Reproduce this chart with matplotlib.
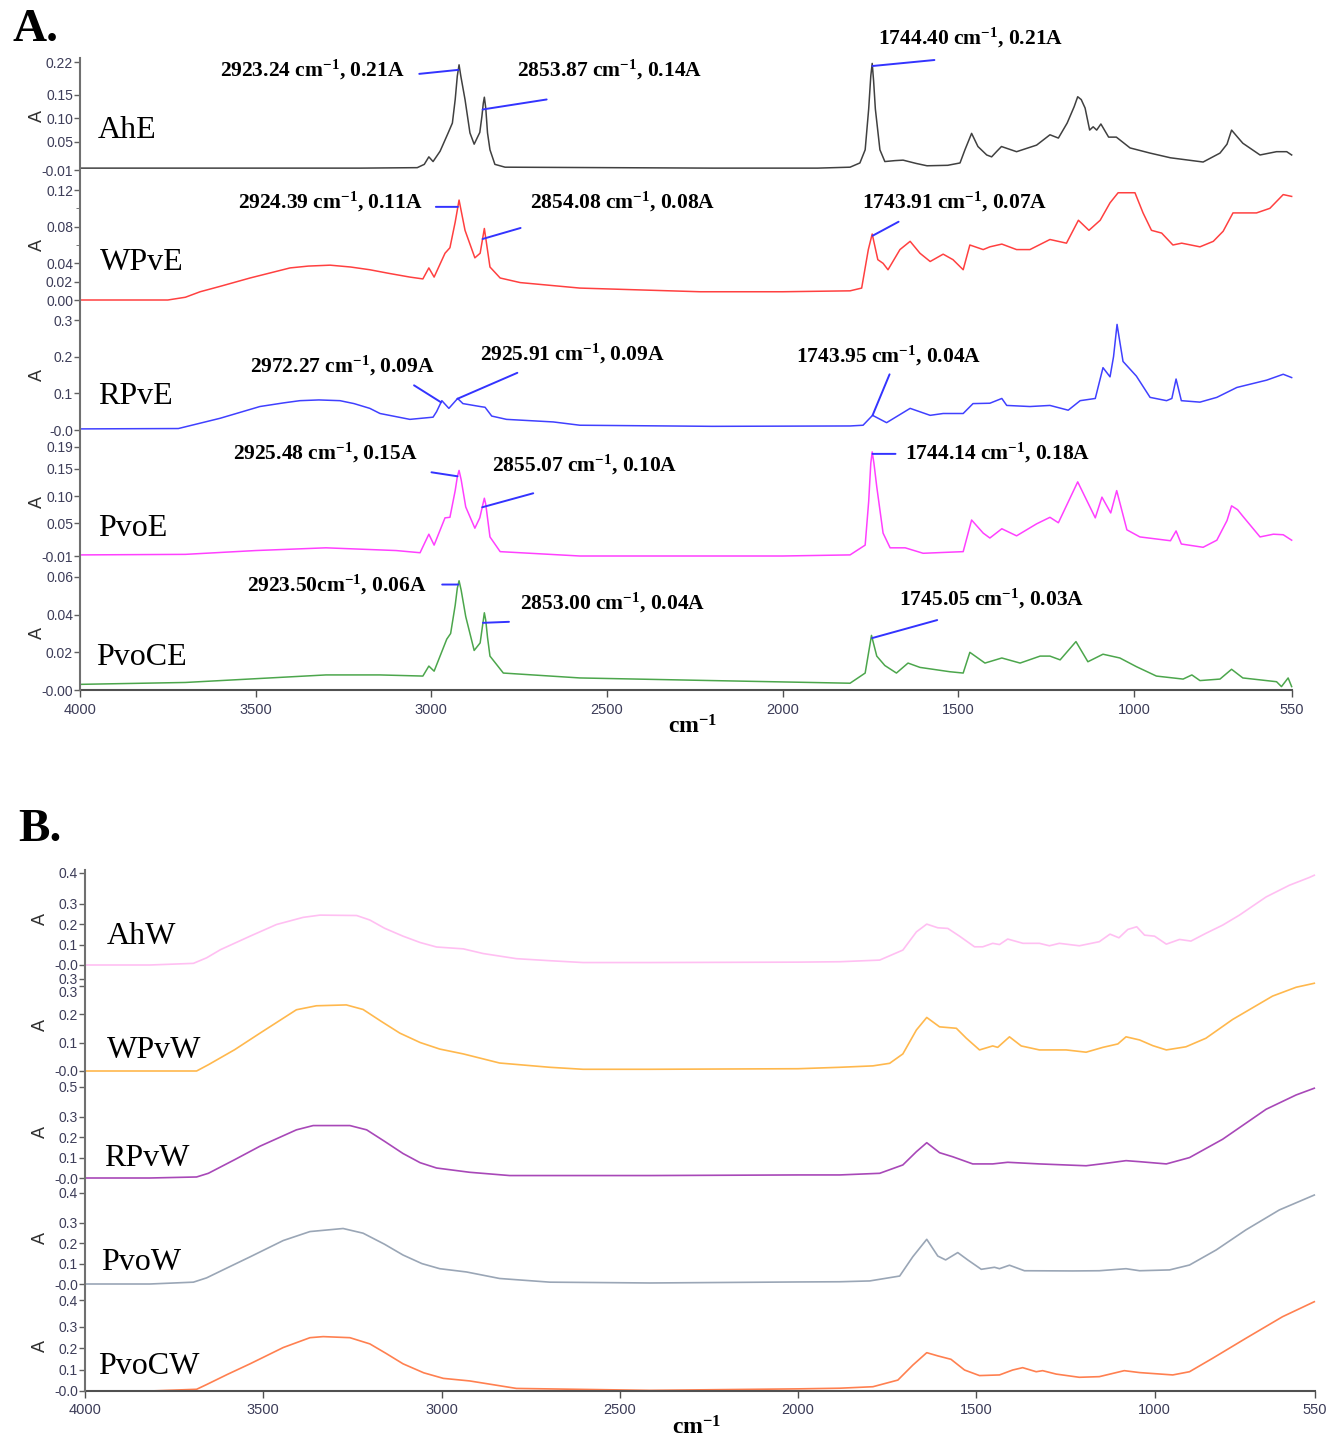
import numpy as np
import matplotlib
matplotlib.use("Agg")
import matplotlib.pyplot as plt
from matplotlib.lines import Line2D
from matplotlib import font_manager


# ---- данные панели A (этанольные экстракты) ----
ahe_wn = [4000, 3600, 3200, 3040, 3020, 3007, 2995, 2975, 2952, 2940, 2932, 2926, 2921, 2916, 2904, 2890,
          2878, 2862, 2856, 2852, 2849, 2845, 2840, 2833, 2819, 2790, 2500, 2200, 1900, 1808, 1780, 1765,
          1755, 1749, 1745, 1741, 1736, 1723, 1709, 1680, 1657, 1620, 1589, 1530, 1495, 1481, 1462, 1444,
          1419, 1405, 1390, 1377, 1334, 1277, 1239, 1215, 1190, 1170, 1160, 1150, 1139, 1126, 1116, 1106,
          1094, 1072, 1050, 1011, 954, 896, 803, 755, 735, 722, 705, 690, 641, 594, 565, 551]
ahe_ab = [-0.006, -0.006, -0.006, -0.005, 0.002, 0.018, 0.008, 0.030, 0.069, 0.090, 0.140, 0.190, 0.214,
          0.190, 0.140, 0.069, 0.045, 0.070, 0.104, 0.132, 0.145, 0.122, 0.069, 0.033, 0.002, -0.004, -0.005,
          -0.006, -0.006, -0.004, 0.005, 0.033, 0.120, 0.190, 0.217, 0.180, 0.120, 0.033, 0.008, 0.010, 0.011,
          0.004, -0.001, 0.000, 0.005, 0.033, 0.068, 0.040, 0.022, 0.018, 0.030, 0.040, 0.029, 0.043, 0.065,
          0.058, 0.090, 0.125, 0.146, 0.140, 0.122, 0.075, 0.082, 0.075, 0.088, 0.060, 0.060, 0.037, 0.026,
          0.016, 0.007, 0.026, 0.045, 0.075, 0.060, 0.047, 0.022, 0.029, 0.029, 0.022]

wpve_wn = [4000, 3750, 3700, 3658, 3600, 3516, 3402, 3350, 3288, 3230, 3175, 3120, 3061, 3024, 3007, 2992,
           2961, 2947, 2932, 2921, 2904, 2876, 2861, 2849, 2833, 2804, 2747, 2577, 2235, 2000, 1808, 1775,
           1756, 1745, 1729, 1714, 1700, 1666, 1637, 1609, 1580, 1543, 1515, 1486, 1467, 1429, 1410, 1376,
           1334, 1296, 1239, 1192, 1158, 1128, 1096, 1068, 1045, 997, 974, 950, 921, 889, 864, 812, 774, 746,
           718, 651, 613, 575, 551]
wpve_ab = [0.000, 0.000, 0.003, 0.009, 0.015, 0.024, 0.035, 0.037, 0.038, 0.036, 0.033, 0.029, 0.025, 0.023,
           0.035, 0.025, 0.051, 0.057, 0.085, 0.109, 0.076, 0.046, 0.051, 0.078, 0.036, 0.024, 0.019, 0.013,
           0.009, 0.009, 0.010, 0.013, 0.055, 0.072, 0.044, 0.040, 0.033, 0.055, 0.064, 0.051, 0.042, 0.050,
           0.044, 0.033, 0.060, 0.055, 0.058, 0.061, 0.055, 0.055, 0.066, 0.062, 0.087, 0.076, 0.087, 0.106,
           0.117, 0.117, 0.095, 0.076, 0.073, 0.060, 0.062, 0.058, 0.064, 0.075, 0.095, 0.095, 0.100, 0.115,
           0.113]

rpve_wn = [4000, 3720, 3601, 3488, 3420, 3374, 3320, 3260, 3220, 3175, 3146, 3061, 2995, 2985, 2970, 2950,
           2925, 2910, 2861, 2847, 2828, 2786, 2653, 2577, 2200, 1808, 1771, 1744, 1704, 1637, 1580, 1543,
           1486, 1458, 1410, 1376, 1362, 1296, 1239, 1187, 1153, 1110, 1088, 1068, 1058, 1048, 1040, 1031, 993,
           954, 907, 892, 880, 865, 812, 764, 707, 622, 575, 551]
rpve_ab = [0.003, 0.004, 0.032, 0.064, 0.074, 0.080, 0.082, 0.080, 0.072, 0.059, 0.045, 0.029, 0.035, 0.050,
           0.080, 0.059, 0.086, 0.072, 0.064, 0.062, 0.038, 0.029, 0.022, 0.013, 0.010, 0.011, 0.013, 0.040,
           0.020, 0.059, 0.040, 0.045, 0.045, 0.072, 0.073, 0.086, 0.067, 0.064, 0.067, 0.054, 0.080, 0.086,
           0.170, 0.145, 0.200, 0.288, 0.240, 0.187, 0.147, 0.089, 0.080, 0.086, 0.139, 0.080, 0.076, 0.089,
           0.116, 0.136, 0.152, 0.143]

pvoe_wn = [4000, 3700, 3500, 3300, 3100, 3032, 3007, 2992, 2961, 2947, 2932, 2926, 2921, 2915, 2902, 2876,
           2862, 2852, 2849, 2845, 2840, 2833, 2804, 2577, 2000, 1808, 1765, 1755, 1749, 1745, 1740, 1732,
           1714, 1694, 1651, 1600, 1486, 1462, 1429, 1410, 1376, 1334, 1277, 1239, 1215, 1160, 1135, 1110,
           1091, 1066, 1049, 1020, 983, 896, 880, 865, 803, 764, 735, 722, 705, 690, 641, 603, 575, 551]
pvoe_ab = [-0.008, -0.007, 0.000, 0.005, 0.000, -0.004, 0.030, 0.010, 0.060, 0.061, 0.110, 0.135, 0.147,
           0.130, 0.080, 0.041, 0.060, 0.088, 0.096, 0.085, 0.060, 0.025, -0.002, -0.010, -0.010, -0.008,
           0.010, 0.090, 0.160, 0.181, 0.160, 0.117, 0.032, 0.005, 0.005, -0.005, -0.002, 0.056, 0.032, 0.023,
           0.040, 0.027, 0.049, 0.061, 0.051, 0.126, 0.093, 0.060, 0.098, 0.069, 0.110, 0.038, 0.025, 0.018,
           0.036, 0.012, 0.006, 0.019, 0.055, 0.082, 0.075, 0.063, 0.025, 0.030, 0.029, 0.019]

pvoce_wn = [4000, 3700, 3500, 3300, 3146, 3024, 3007, 2992, 2956, 2945, 2932, 2926, 2921, 2915, 2902, 2878,
            2861, 2852, 2849, 2845, 2840, 2833, 2795, 2577, 2200, 1808, 1765, 1747, 1732, 1709, 1676, 1643,
            1609, 1524, 1486, 1467, 1424, 1376, 1324, 1267, 1239, 1210, 1165, 1131, 1088, 1040, 993, 936, 860,
            835, 812, 755, 722, 690, 594, 580, 561, 551]
pvoce_ab = [0.0030, 0.0040, 0.0060, 0.0080, 0.0080, 0.0074, 0.0127, 0.0100, 0.0270, 0.0300, 0.0450, 0.0540,
            0.0580, 0.0530, 0.0390, 0.0210, 0.0250, 0.0370, 0.0410, 0.0370, 0.0280, 0.0180, 0.0090, 0.0064,
            0.0050, 0.0036, 0.0090, 0.0290, 0.0180, 0.0130, 0.0090, 0.0143, 0.0120, 0.0097, 0.0090, 0.0200,
            0.0143, 0.0170, 0.0143, 0.0180, 0.0180, 0.0160, 0.0257, 0.0150, 0.0190, 0.0170, 0.0124, 0.0074,
            0.0058, 0.0080, 0.0050, 0.0058, 0.0110, 0.0064, 0.0044, 0.0018, 0.0064, 0.0018]

# ---- данные панели B (водные экстракты) ----
ahw_wn = [4000, 3818, 3696, 3659, 3620, 3537, 3463, 3388, 3341, 3238, 3201, 3160, 3108, 3060, 3014, 2939,
          2883, 2790, 2696, 2603, 2416, 2000, 1883, 1771, 1706, 1668, 1639, 1608, 1580, 1547, 1505, 1482,
          1454, 1435, 1412, 1369, 1323, 1295, 1267, 1211, 1155, 1125, 1100, 1075, 1050, 1028, 1000, 967, 930,
          898, 856, 809, 762, 687, 622, 566, 552]
ahw_ab = [0.000, 0.000, 0.008, 0.035, 0.075, 0.141, 0.198, 0.233, 0.244, 0.242, 0.220, 0.180, 0.141, 0.110,
          0.088, 0.079, 0.056, 0.031, 0.021, 0.012, 0.012, 0.014, 0.016, 0.024, 0.073, 0.162, 0.200, 0.182,
          0.179, 0.141, 0.089, 0.089, 0.106, 0.100, 0.127, 0.106, 0.106, 0.094, 0.106, 0.094, 0.114, 0.151,
          0.133, 0.174, 0.187, 0.146, 0.141, 0.102, 0.125, 0.117, 0.155, 0.195, 0.244, 0.333, 0.390, 0.428,
          0.439]

wpvw_wn = [4000, 3818, 3687, 3654, 3580, 3509, 3407, 3351, 3267, 3220, 3170, 3117, 3060, 3005, 2939, 2837,
           2696, 2603, 2416, 2000, 1883, 1790, 1743, 1706, 1668, 1639, 1603, 1556, 1528, 1491, 1454, 1440,
           1407, 1374, 1323, 1248, 1192, 1145, 1103, 1080, 1042, 1005, 967, 912, 856, 781, 669, 603, 552]
wpvw_ab = [0.000, 0.000, 0.000, 0.022, 0.075, 0.133, 0.215, 0.229, 0.232, 0.216, 0.175, 0.133, 0.100, 0.077,
           0.060, 0.028, 0.013, 0.006, 0.006, 0.008, 0.013, 0.018, 0.027, 0.060, 0.144, 0.188, 0.155, 0.150,
           0.115, 0.074, 0.088, 0.083, 0.120, 0.088, 0.074, 0.074, 0.066, 0.083, 0.095, 0.120, 0.109, 0.089,
           0.074, 0.085, 0.115, 0.181, 0.263, 0.294, 0.308]

rpvw_wn = [4000, 3818, 3687, 3654, 3580, 3509, 3407, 3360, 3257, 3210, 3160, 3108, 3060, 3014, 2921, 2809,
           2416, 2000, 1883, 1771, 1706, 1668, 1639, 1603, 1566, 1510, 1454, 1412, 1323, 1192, 1136, 1080,
           1042, 967, 902, 809, 687, 603, 552]
rpvw_ab = [0.000, 0.000, 0.005, 0.023, 0.090, 0.156, 0.236, 0.257, 0.257, 0.236, 0.180, 0.120, 0.075, 0.049,
           0.028, 0.012, 0.012, 0.015, 0.015, 0.023, 0.064, 0.129, 0.173, 0.124, 0.104, 0.069, 0.069, 0.077,
           0.069, 0.060, 0.072, 0.085, 0.080, 0.069, 0.100, 0.190, 0.337, 0.407, 0.440]

pvow_wn = [4000, 3818, 3696, 3659, 3600, 3537, 3444, 3369, 3276, 3220, 3160, 3108, 3055, 3005, 2930, 2837,
           2696, 2416, 2000, 1883, 1799, 1715, 1678, 1639, 1608, 1586, 1552, 1524, 1486, 1449, 1435, 1407,
           1365, 1229, 1155, 1080, 1042, 958, 902, 827, 744, 650, 552]
pvow_ab = [0.000, 0.000, 0.009, 0.030, 0.080, 0.133, 0.213, 0.257, 0.272, 0.249, 0.195, 0.142, 0.100, 0.075,
           0.059, 0.027, 0.009, 0.005, 0.010, 0.011, 0.015, 0.039, 0.134, 0.219, 0.137, 0.118, 0.154, 0.118,
           0.072, 0.082, 0.075, 0.092, 0.065, 0.064, 0.065, 0.075, 0.065, 0.069, 0.093, 0.167, 0.265, 0.363,
           0.436]

pvocw_wn = [4000, 3818, 3687, 3659, 3600, 3537, 3444, 3369, 3332, 3257, 3201, 3155, 3108, 3050, 2995, 2921,
            2790, 2416, 2000, 1883, 1790, 1720, 1678, 1639, 1608, 1571, 1533, 1491, 1435, 1398, 1370, 1332,
            1314, 1276, 1211, 1155, 1085, 1042, 949, 902, 837, 744, 641, 552]
pvocw_ab = [0.000, 0.000, 0.008, 0.030, 0.078, 0.127, 0.203, 0.249, 0.254, 0.249, 0.220, 0.175, 0.127, 0.085,
            0.059, 0.047, 0.012, 0.003, 0.010, 0.013, 0.020, 0.051, 0.121, 0.179, 0.164, 0.148, 0.098, 0.072,
            0.075, 0.098, 0.109, 0.090, 0.095, 0.079, 0.064, 0.067, 0.095, 0.086, 0.075, 0.090, 0.153, 0.246,
            0.347, 0.417]

names_a = ["AhE", "WPvE", "RPvE", "PvoE", "PvoCE"]
names_b = ["AhW", "WPvW", "RPvW", "PvoW", "PvoCW"]
series_a = [(ahe_wn, ahe_ab), (wpve_wn, wpve_ab), (rpve_wn, rpve_ab), (pvoe_wn, pvoe_ab), (pvoce_wn, pvoce_ab)]
series_b = [(ahw_wn, ahw_ab), (wpvw_wn, wpvw_ab), (rpvw_wn, rpvw_ab), (pvow_wn, pvow_ab), (pvocw_wn, pvocw_ab)]

# деления оси Y (подписи как на исходном рисунке)
yticks_a = [[-0.01, 0.05, 0.10, 0.15, 0.22], [0.00, 0.02, 0.04, 0.08, 0.12], [0.0, 0.1, 0.2, 0.3],
            [-0.01, 0.05, 0.10, 0.15, 0.19], [0.0, 0.02, 0.04, 0.06]]
ylabels_a = [["-0.01", "0.05", "0.10", "0.15", "0.22"], ["0.00", "0.02", "0.04", "0.08", "0.12"],
             ["-0.0", "0.1", "0.2", "0.3"], ["-0.01", "0.05", "0.10", "0.15", "0.19"],
             ["-0.00", "0.02", "0.04", "0.06"]]
yticks_b = [[0.0, 0.1, 0.2, 0.3, 0.45], [0.0, 0.1, 0.2, 0.3, 0.323], [0.0, 0.1, 0.2, 0.3, 0.446],
            [0.0, 0.1, 0.2, 0.3, 0.446], [0.0, 0.1, 0.2, 0.3, 0.425]]
ylabels_b = [["-0.0", "0.1", "0.2", "0.3", "0.4"], ["-0.0", "0.1", "0.2", "0.3", "0.3"],
             ["-0.0", "0.1", "0.2", "0.3", "0.5"], ["-0.0", "0.1", "0.2", "0.3", "0.4"],
             ["-0.0", "0.1", "0.2", "0.3", "0.4"]]
xticks = [4000, 3500, 3000, 2500, 2000, 1500, 1000, 550]

# подписи пиков: (панель, волновое число, текст)
peaks = [
    (0, 2923.24, "2923.24 cm$^{-1}$, 0.21A"),
    (0, 2853.87, "2853.87 cm$^{-1}$, 0.14A"),
    (0, 1744.40, "1744.40 cm$^{-1}$, 0.21A"),
    (1, 2924.39, "2924.39 cm$^{-1}$, 0.11A"),
    (1, 2854.08, "2854.08 cm$^{-1}$, 0.08A"),
    (1, 1743.91, "1743.91 cm$^{-1}$, 0.07A"),
    (2, 2972.27, "2972.27 cm$^{-1}$, 0.09A"),
    (2, 2925.91, "2925.91 cm$^{-1}$, 0.09A"),
    (2, 1743.95, "1743.95 cm$^{-1}$, 0.04A"),
    (3, 2925.48, "2925.48 cm$^{-1}$, 0.15A"),
    (3, 2855.07, "2855.07 cm$^{-1}$, 0.10A"),
    (3, 1744.14, "1744.14 cm$^{-1}$, 0.18A"),
    (4, 2923.50, "2923.50cm$^{-1}$, 0.06A"),
    (4, 2853.00, "2853.00 cm$^{-1}$, 0.04A"),
    (4, 1745.05, "1745.05 cm$^{-1}$, 0.03A"),
]
# конец выноски (смещение в пикселях) и положение текста (пиксели рисунка)
leader_off = [(-39, -4), (64, 10), (62, 6), (-22, 0), (38, 11), (26, 14), (-27, 17), (60, 26), (17, 41),
              (-26, 4), (51, 14), (23, 0), (-16, 0), (26, 1), (65, 18)]
text_pos = [(220, 70), (517, 70), (878, 38), (238, 202), (530, 202), (862, 202), (250, 366), (480, 354),
            (796, 356), (233, 453), (492, 465), (905, 453), (247, 585), (520, 603), (899, 599)]

colors_a = ["#404040", "#ff4040", "#4040ff", "#ff40ff", "#4ca64c"]
colors_b = ["#ffbff2", "#ffb84d", "#a848b8", "#9aa6b6", "#ff8050"]

W, H = 1326, 1440


def pick_font(cands):
    for c in cands:
        try:
            font_manager.findfont(c, fallback_to_default=False)
            return c
        except Exception:
            pass
    return "DejaVu Sans"


narrow = pick_font(["Liberation Sans Narrow", "Liberation Sans"])
serif = "Liberation Serif"

plt.rcParams["mathtext.fontset"] = "custom"
plt.rcParams["mathtext.rm"] = "Liberation Serif:bold"
plt.rcParams["mathtext.it"] = "Liberation Serif:bold"
plt.rcParams["mathtext.bf"] = "Liberation Serif:bold"

fig = plt.figure(figsize=(W / 100, H / 100), dpi=100)


def px_axes(left, top, right, bottom):
    return fig.add_axes([left / W, 1 - bottom / H, (right - left) / W, (bottom - top) / H])


def setup(ax, ticks, labels, last):
    ax.set_xlim(4000, 550)
    ax.set_ylim(ticks[0], ticks[-1])
    ax.set_yticks(ticks)
    ax.set_yticklabels(labels)
    ax.patch.set_alpha(0)
    for s in ["top", "right", "left"]:
        ax.spines[s].set_visible(False)
    ax.tick_params(axis="y", direction="out", length=4, width=1, color="#606060",
                   labelsize=10, labelcolor="#3c3c58", pad=1)
    for t in ax.get_yticklabels():
        t.set_fontfamily(narrow)
    if last:
        ax.spines["bottom"].set_color("#505050")
        ax.spines["bottom"].set_linewidth(1.5)
        ax.set_xticks(xticks)
        ax.set_xticklabels([str(v) for v in xticks])
        ax.tick_params(axis="x", direction="out", length=5, width=1, color="#505050",
                       labelsize=10.5, labelcolor="#3c3c58", pad=4)
        for t in ax.get_xticklabels():
            t.set_fontfamily(narrow)
    else:
        ax.spines["bottom"].set_visible(False)
        ax.set_xticks([])


# ---- панель A ----
rows_a = [(62, 170), (190, 300), (320, 430), (447, 556), (577, 690)]
name_pos_a = [(98, 130), (100, 263), (98, 396), (98, 529), (96, 657)]
axes_a = []
for i, (top, bot) in enumerate(rows_a):
    ax = px_axes(80, top, 1292, bot)
    wn, ab = series_a[i]
    ax.plot(wn, ab, color=colors_a[i], lw=1.1, clip_on=False)
    setup(ax, yticks_a[i], ylabels_a[i], i == len(rows_a) - 1)
    if i == 1:
        ax.set_yticks([0.06, 0.10], minor=True)
        ax.tick_params(axis="y", which="minor", length=3, color="#606060")
    fig.text(name_pos_a[i][0] / W, 1 - name_pos_a[i][1] / H, names_a[i], family=serif,
             fontsize=23, va="center", ha="left")
    fig.text(37 / W, 1 - (top + bot) / 2 / H, "A", rotation=90, fontsize=13,
             family="Liberation Sans", va="center", ha="center", color="#303030")
    axes_a.append(ax)

fig.add_artist(Line2D([80 / W, 80 / W], [1 - 58 / H, 1 - 690 / H], color="#707070", lw=1.5,
                      transform=fig.transFigure))

for (panel, wn0, label), (dx, dy), (tx, ty) in zip(peaks, leader_off, text_pos):
    ax = axes_a[panel]
    wn, ab = series_a[panel]
    y0 = np.interp(wn0, wn[::-1], ab[::-1])
    ax.annotate("", xy=(wn0, y0), xytext=(dx, dy), textcoords="offset pixels",
                arrowprops=dict(arrowstyle="-", color="#3333ff", lw=1.4, shrinkA=0, shrinkB=0),
                annotation_clip=False)
    fig.text(tx / W, 1 - ty / H, label, family=serif, fontweight="bold", fontsize=15.5,
             va="center", ha="left")

fig.text(693 / W, 1 - 727 / H, "cm$^{-1}$", family=serif, fontweight="bold", fontsize=17,
         ha="center", va="center")
fig.text(12 / W, 1 - 30 / H, "A.", family=serif, fontweight="bold", fontsize=34, ha="left", va="center")

# ---- панель B ----
rows_b = [(873, 965), (979, 1071), (1087, 1178), (1193, 1284), (1300, 1391)]
name_pos_b = [(107, 936), (107, 1050), (104, 1159), (101, 1263), (98, 1367)]
for i, (top, bot) in enumerate(rows_b):
    ax = px_axes(85, top, 1315, bot)
    wn, ab = series_b[i]
    ax.plot(wn, ab, color=colors_b[i], lw=1.2, clip_on=False)
    setup(ax, yticks_b[i], ylabels_b[i], i == len(rows_b) - 1)
    if i == 1:
        # две подписи "0.3" почти вплотную, как на оригинале: нижнюю чуть опускаем
        ax.get_yticklabels()[-2].set_verticalalignment("top")
    fig.text(name_pos_b[i][0] / W, 1 - name_pos_b[i][1] / H, names_b[i], family=serif,
             fontsize=23, va="center", ha="left")
    fig.text(40 / W, 1 - (top + bot) / 2 / H, "A", rotation=90, fontsize=13,
             family="Liberation Sans", va="center", ha="center", color="#303030")

fig.add_artist(Line2D([85 / W, 85 / W], [1 - 870 / H, 1 - 1391 / H], color="#707070", lw=1.5,
                      transform=fig.transFigure))

fig.text(697 / W, 1 - 1428 / H, "cm$^{-1}$", family=serif, fontweight="bold", fontsize=17,
         ha="center", va="center")
fig.text(18 / W, 1 - 830 / H, "B.", family=serif, fontweight="bold", fontsize=34, ha="left", va="center")

fig.savefig("out.png", dpi=100)
